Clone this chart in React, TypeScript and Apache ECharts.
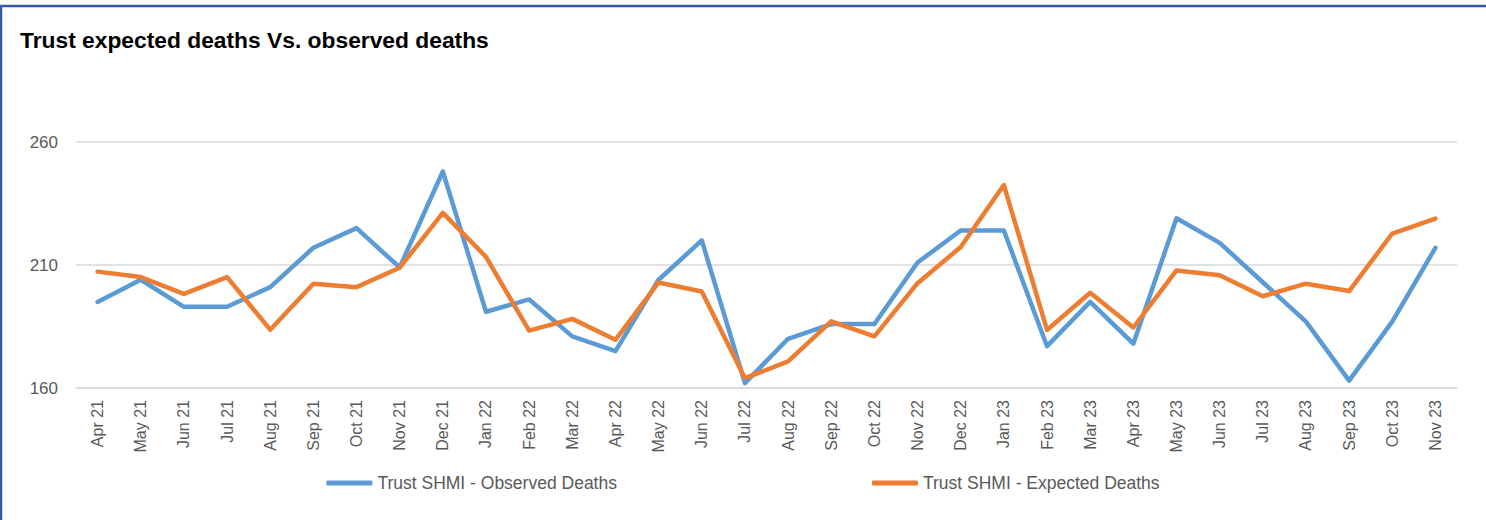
import React, { useEffect, useRef } from "react";
import * as echarts from "echarts";

// Monthly categories, April 2021 to November 2023
const months: string[] = [
  "Apr 21", "May 21", "Jun 21", "Jul 21", "Aug 21", "Sep 21", "Oct 21", "Nov 21", "Dec 21",
  "Jan 22", "Feb 22", "Mar 22", "Apr 22", "May 22", "Jun 22", "Jul 22", "Aug 22", "Sep 22",
  "Oct 22", "Nov 22", "Dec 22",
  "Jan 23", "Feb 23", "Mar 23", "Apr 23", "May 23", "Jun 23", "Jul 23", "Aug 23", "Sep 23",
  "Oct 23", "Nov 23",
];

const observedDeaths: number[] = [
  195, 204, 193, 193, 201, 217, 225, 209, 248,
  191, 196, 181, 175, 204, 220, 162, 180, 186, 186, 211, 224,
  224, 177, 195, 178, 229, 219, 203, 187, 163, 187, 217,
];

const expectedDeaths: number[] = [
  207.3, 205.1, 198.3, 205.1, 183.7, 202.4, 201.0, 208.9, 231.2,
  213.3, 183.3, 188.1, 179.6, 202.9, 199.2, 164.0, 170.8, 187.1, 181.0, 202.6, 217.3,
  242.5, 183.6, 198.7, 184.6, 207.8, 205.8, 197.3, 202.4, 199.4, 222.8, 228.9,
];

const yMin = 160;
const yMax = 260;
const yStep = 50;

const FONT = "'Liberation Sans', Arial, sans-serif";
const BLUE = "#5B9BD5";
const ORANGE = "#ED7D31";
const GRID_GREY = "#D9D9D9";
const LABEL_GREY = "#595959";
const FRAME = "#3459A8";

export default function App() {
  const ref = useRef<HTMLDivElement>(null);

  useEffect(() => {
    if (!ref.current) return;
    const chart = echarts.init(ref.current, undefined, { renderer: "svg" });
    chart.setOption({
      animation: false,
      backgroundColor: "#ffffff",
      title: {
        text: "Trust expected deaths Vs. observed deaths",
        left: 20,
        top: 28,
        padding: 0,
        textStyle: {
          fontFamily: FONT,
          fontWeight: "bold",
          fontSize: 22.8,
          color: "#000000",
        },
      },
      graphic: [
        {
          type: "line",
          shape: { x1: 0, y1: 6, x2: 1486, y2: 6 },
          style: { stroke: FRAME, lineWidth: 2.5 },
        },
        {
          type: "line",
          shape: { x1: 1, y1: 5, x2: 1, y2: 520 },
          style: { stroke: FRAME, lineWidth: 2.5 },
        },
      ],
      grid: {
        left: 76,
        right: 29,
        top: 142,
        bottom: 132,
        containLabel: false,
      },
      legend: {
        bottom: 23,
        left: "center",
        itemGap: 255,
        itemWidth: 46,
        itemHeight: 5,
        icon: "roundRect",
        textStyle: {
          fontFamily: FONT,
          fontSize: 17.5,
          color: LABEL_GREY,
        },
        data: ["Trust SHMI - Observed Deaths", "Trust SHMI - Expected Deaths"],
      },
      xAxis: {
        type: "category",
        boundaryGap: true,
        data: months,
        axisLine: { show: true, lineStyle: { color: GRID_GREY, width: 1.5 } },
        axisTick: { show: false },
        axisLabel: {
          rotate: 90,
          interval: 0,
          margin: 12,
          fontFamily: FONT,
          fontSize: 16,
          color: LABEL_GREY,
        },
      },
      yAxis: {
        type: "value",
        min: yMin,
        max: yMax,
        interval: yStep,
        axisLine: { show: false },
        axisTick: { show: false },
        splitLine: { lineStyle: { color: GRID_GREY, width: 1.5 } },
        axisLabel: {
          margin: 18,
          fontFamily: FONT,
          fontSize: 17,
          color: LABEL_GREY,
        },
      },
      series: [
        {
          name: "Trust SHMI - Observed Deaths",
          type: "line",
          data: observedDeaths,
          symbol: "none",
          color: BLUE,
          lineStyle: { color: BLUE, width: 4.5, cap: "round", join: "round" },
        },
        {
          name: "Trust SHMI - Expected Deaths",
          type: "line",
          data: expectedDeaths,
          symbol: "none",
          color: ORANGE,
          lineStyle: { color: ORANGE, width: 4.5, cap: "round", join: "round" },
        },
      ],
    });
    return () => chart.dispose();
  }, []);

  return (
    <div
      ref={ref}
      style={{ position: "absolute", left: 0, top: 0, width: 1486, height: 520 }}
    />
  );
}
